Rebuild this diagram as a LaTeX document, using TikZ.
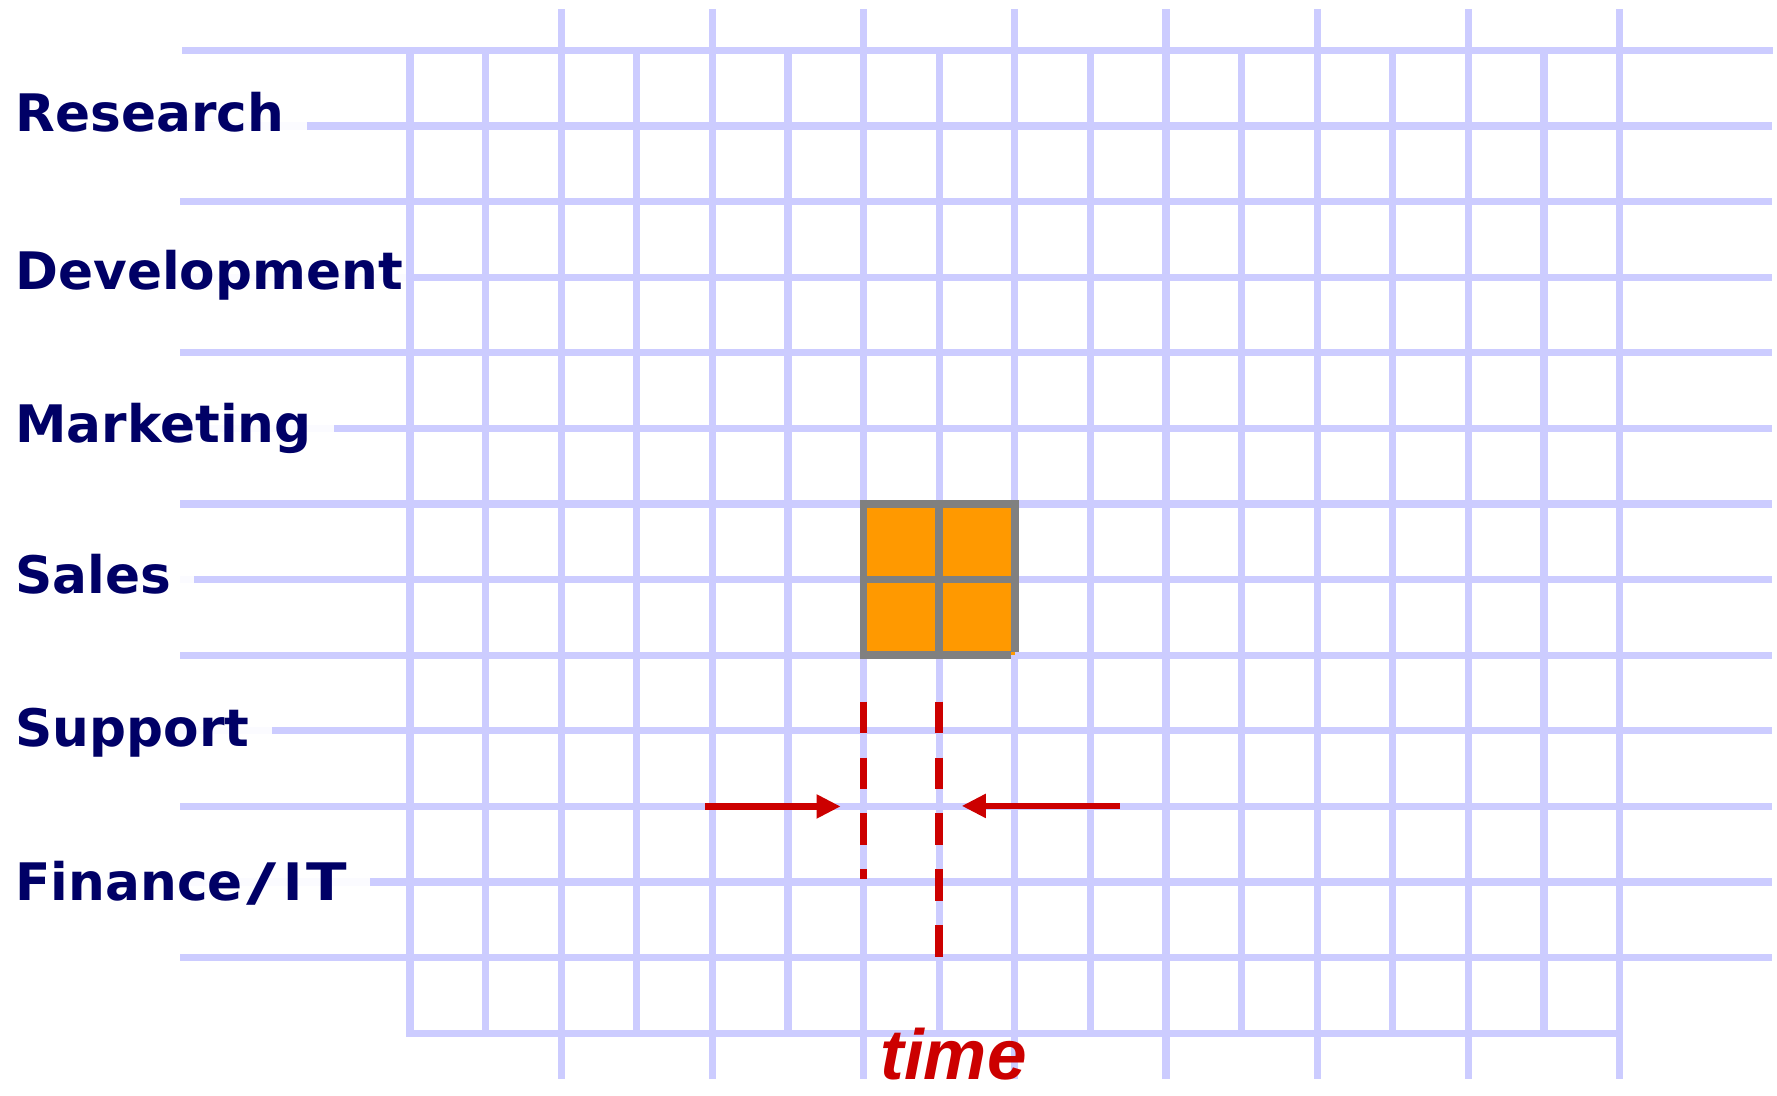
\documentclass[tikz,border=0pt]{standalone}
\usepackage{fontspec}
\usepackage{graphicx}
\setmainfont{DejaVu Sans}
\newfontfamily\timefont{Liberation Sans}
\usetikzlibrary{arrows.meta}
\definecolor{gridline}{HTML}{CCCCFF}
\definecolor{navy}{HTML}{000066}
\definecolor{block}{HTML}{FF9900}
\definecolor{frame}{HTML}{808080}
\definecolor{timered}{HTML}{CC0000}

\begin{document}
\begin{tikzpicture}[x=1cm, y=-1cm,
  every node/.style={font=\fontsize{19.46}{22}\selectfont\bfseries},
  lane/.style={anchor=base west, text=navy, fill=white, fill opacity=0.92, text opacity=1, inner xsep=0.3cm, inner ysep=0.12cm},
  gridln/.style={gridline, line width=0.095cm, line cap=rect},
  cut/.style={timered, line width=0.1cm, dash pattern=on 0.42cm off 0.32cm},
  push/.style={timered, line width=0.09cm, -{Triangle[length=0.32cm, width=0.3cm]}}]
  \useasboundingbox (0,0) rectangle (23.505,14.497);

  % row stubs left of the grid
  \draw[gridln] (2.45,0.667) -- (5.423,0.667);
  \foreach \r in {1,...,12}
    \draw[gridln] (2.43,0.667+\r) -- (5.423,0.667+\r);

  % departments
  \foreach \name/\txt/\y in {research/Research/1.733, development/Development/3.823,
      marketing/Marketing/5.856, sales/Sales/7.848, support/Support/9.877,
      finance/{Finance\kern0.08em\scalebox{1.6}[1]{/}\kern0.12em I\kern0.08em\scalebox{1.15}[1]{T}}/11.905}
    \node[lane] (\name) at (-0.102,\y) {\txt};

  % grid
  \draw[gridln] (5.423,0.667) -- (23.41,0.667);
  \foreach \r in {1,...,12}
    \draw[gridln] (5.423,0.667+\r) -- (23.39,0.667+\r);
  \draw[gridln] (5.423,13.667) -- (21.423,13.667);
  \foreach \k in {0,1,3,5,7,9,11,13,15}
    \draw[gridln] (5.423+\k,0.667) -- (5.423+\k,13.667);
  \foreach \k in {2,4,...,16}
    \draw[gridln] (5.423+\k,0.16) -- (5.423+\k,14.22);

  % block
  \fill[block] (11.423,6.667) rectangle (13.423,8.667);
  \draw[frame, line width=0.1cm] (13.423,8.62) -- (13.423,6.667) -- (11.423,6.667) -- (11.423,8.667) -- (13.376,8.667);
  \draw[frame, line width=0.1cm] (12.423,6.667) -- (12.423,8.667) (11.423,7.667) -- (13.423,7.667);

  % cuts
  \draw[cut] (11.423,9.28) -- (11.423,11.62);
  \draw[cut] (12.423,9.28) -- (12.423,12.66);

  % arrows
  \coordinate (lfrom) at (9.33,10.667);
  \coordinate (lto) at (11.12,10.667);
  \coordinate (rfrom) at (14.81,10.66);
  \coordinate (rto) at (12.72,10.66);
  \draw[push] (lfrom) -- (lto);
  \draw[push] (rfrom) -- (rto);

  \node[text=timered, font=\timefont\fontsize{26.72}{30}\selectfont\bfseries\itshape, anchor=base west, inner sep=0pt] (time) at (11.64,14.28) {time};
\end{tikzpicture}
\end{document}
